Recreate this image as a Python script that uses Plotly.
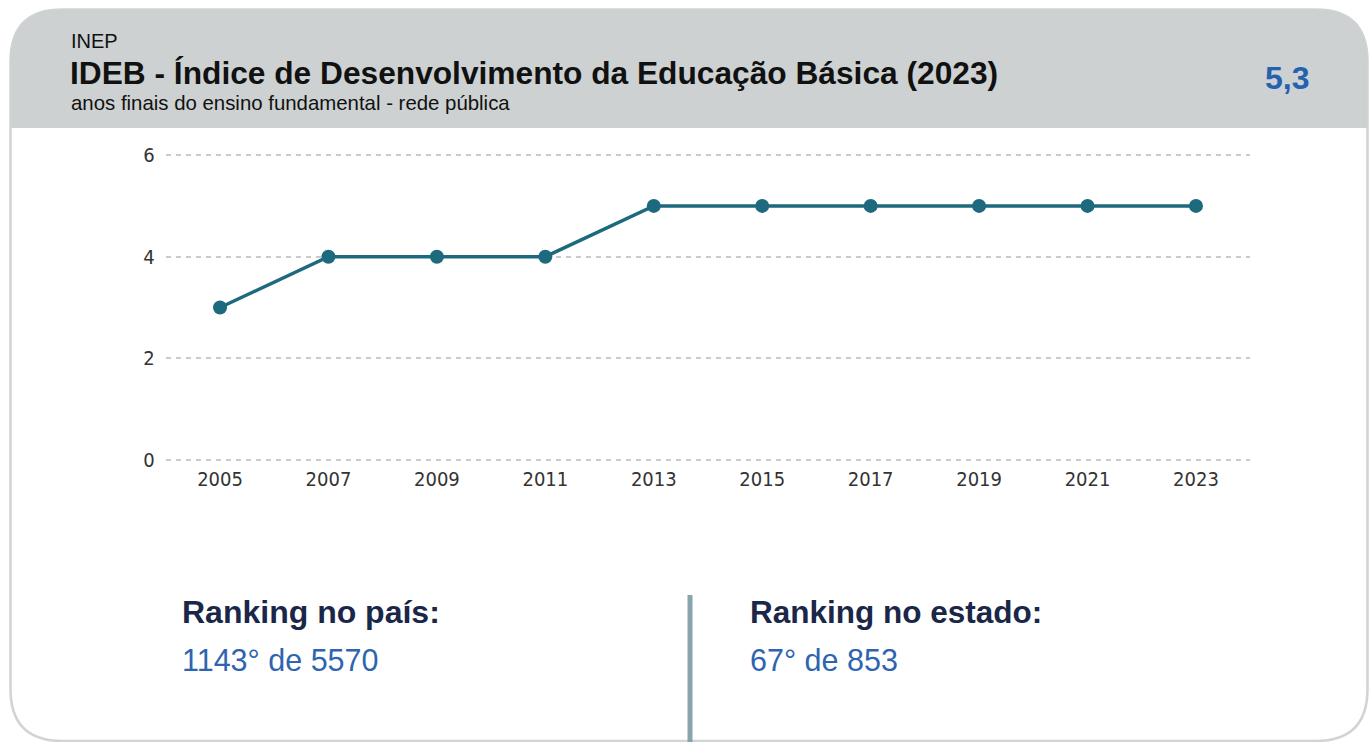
import plotly.graph_objects as go

# ---- data ----
years = [2005, 2007, 2009, 2011, 2013, 2015, 2017, 2019, 2021, 2023]
ideb = [3, 4, 4, 4, 5, 5, 5, 5, 5, 5]
y_ticks = [0, 2, 4, 6]
header_source = "INEP"
header_title = "IDEB - Índice de Desenvolvimento da Educação Básica (2023)"
header_sub = "anos finais do ensino fundamental - rede pública"
ideb_current = "5,3"
rank_country_label = "Ranking no país:"
rank_country_value = "1143° de 5570"
rank_state_label = "Ranking no estado:"
rank_state_value = "67° de 853"

W, H = 1370, 742


def px(x):
    return x / W


def py(y):
    return 1 - y / H


def path(points):
    out = []
    for cmd, *coords in points:
        vals = []
        for i in range(0, len(coords), 2):
            vals.append(f"{px(coords[i]):.5f},{py(coords[i + 1]):.5f}")
        out.append(cmd + " " + " ".join(vals))
    return " ".join(out)


LINE = "#1d6a7e"
ARIAL = "Liberation Sans, Arial, Helvetica, sans-serif"
NARROW = "Liberation Sans Narrow, Arial Narrow, DejaVu Sans Condensed, Roboto Condensed, sans-serif"

fig = go.Figure()
fig.add_trace(go.Scatter(
    x=years, y=ideb, mode="lines+markers",
    line=dict(color=LINE, width=3.5),
    marker=dict(color=LINE, size=14),
    hoverinfo="x+y", showlegend=False,
))

# card outline and header
L, R, T, B = 10.5, 1367.5, 9.5, 741
r = 52
card = path([
    ("M", L + r, T), ("L", R - r, T), ("Q", R, T, R, T + r), ("L", R, B - r),
    ("Q", R, B, R - r, B), ("L", L + r, B), ("Q", L, B, L, B - r), ("L", L, T + r),
    ("Q", L, T, L + r, T), ("Z",),
])
HB = 128
header = path([
    ("M", L + r, T), ("L", R - r, T), ("Q", R, T, R, T + r), ("L", R, HB),
    ("L", L, HB), ("L", L, T + r), ("Q", L, T, L + r, T), ("Z",),
])
shapes = [
    dict(type="path", path=card, xref="paper", yref="paper",
         fillcolor="white", line=dict(color="#d0d4d5", width=2.5), layer="below"),
    dict(type="path", path=header, xref="paper", yref="paper",
         fillcolor="#cdd1d2", line=dict(width=0), layer="below"),
    dict(type="line", xref="paper", yref="paper", x0=px(690), x1=px(690),
         y0=py(595), y1=py(742), line=dict(color="#8aa4ae", width=5)),
]

annotations = [
    dict(text=header_source, x=px(69), y=py(41), font=dict(family=ARIAL, size=20, color="#111111")),
    dict(text=f"<b>{header_title}</b>", x=px(68), y=py(73), font=dict(family=ARIAL, size=31.7, color="#111111")),
    dict(text=header_sub, x=px(69), y=py(103), font=dict(family=ARIAL, size=20.4, color="#111111")),
    dict(text=f"<b>{ideb_current}</b>", x=px(1311), y=py(78), xanchor="right",
         font=dict(family=ARIAL, size=32, color="#2461b0")),
    dict(text=f"<b>{rank_country_label}</b>", x=px(180), y=py(612), font=dict(family=ARIAL, size=32, color="#1b2748")),
    dict(text=rank_country_value, x=px(180), y=py(660), font=dict(family=ARIAL, size=30.5, color="#2e64b0")),
    dict(text=f"<b>{rank_state_label}</b>", x=px(748), y=py(612), font=dict(family=ARIAL, size=31.5, color="#1b2748")),
    dict(text=rank_state_value, x=px(748), y=py(660), font=dict(family=ARIAL, size=30.5, color="#2e64b0")),
]
for a in annotations:
    a.setdefault("xanchor", "left")
    a.update(xref="paper", yref="paper", yanchor="middle", showarrow=False)

fig.update_layout(
    width=W, height=H,
    margin=dict(l=0, r=0, t=0, b=0, pad=0, autoexpand=False),
    paper_bgcolor="white", plot_bgcolor="rgba(0,0,0,0)",
    shapes=shapes, annotations=annotations,
    xaxis=dict(
        domain=[px(165.8), px(1250.2)], range=[2004, 2024],
        tickvals=years, ticktext=[str(y) for y in years],
        showgrid=False, zeroline=False, showline=False, automargin=False,
        tickfont=dict(family=NARROW, size=20, color="#333333"),
    ),
    yaxis=dict(
        domain=[py(465), py(150)], range=[-0.1, 6.1],
        tickvals=y_ticks, showgrid=True, gridcolor="#cacaca", gridwidth=2,
        griddash="5px,5px", zeroline=False, showline=False, automargin=False,
        tickfont=dict(family=NARROW, size=20, color="#333333"),
        ticklabelstandoff=10,
    ),
)

fig.write_html(
    "out.html",
    config={"displayModeBar": False},
    post_script=(
        "document.body.style.margin='0';document.body.style.overflow='hidden';"
        "var d=document.getElementById('{plot_id}');"
        "d.style.position='fixed';d.style.left='0px';d.style.top='0px';"
    ),
)
